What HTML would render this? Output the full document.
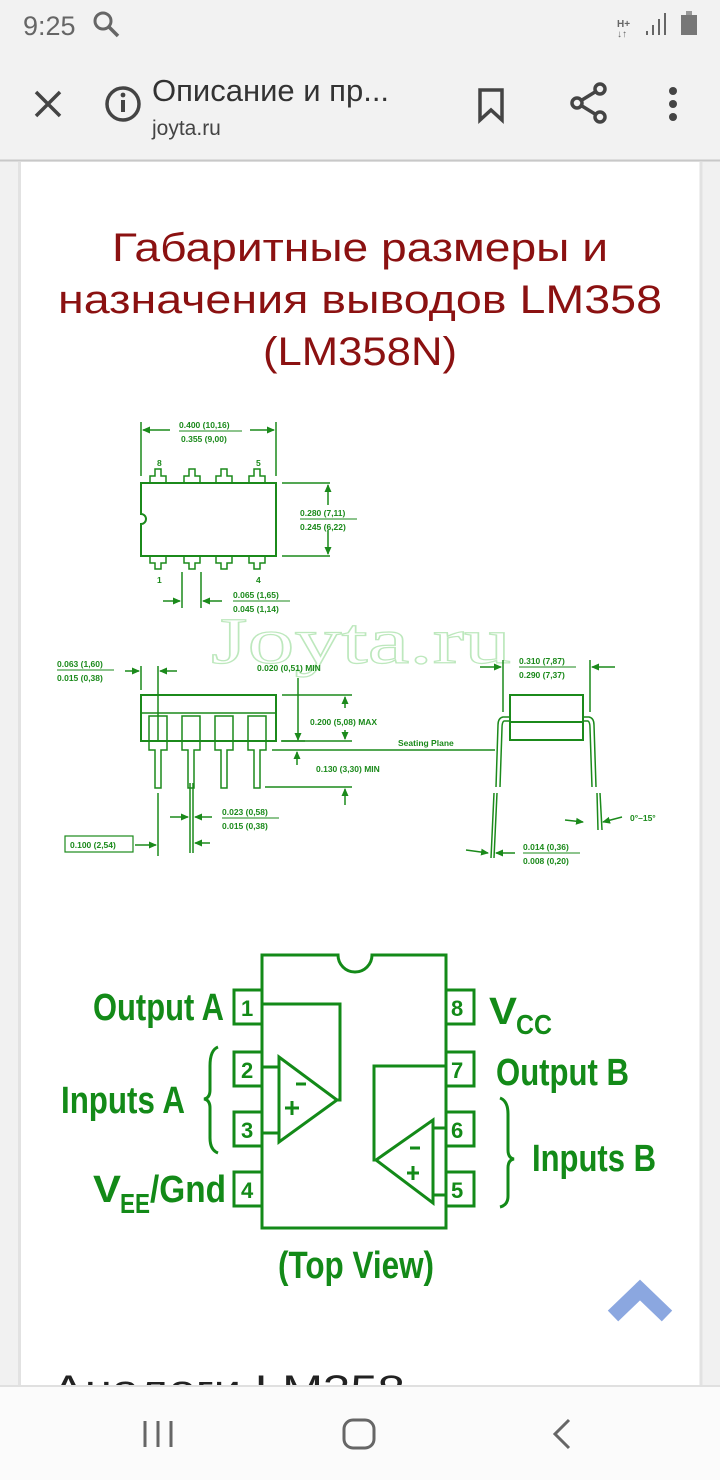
<!DOCTYPE html>
<html><head><meta charset="utf-8"><style>
body{margin:0;width:720px;height:1480px;overflow:hidden;background:#f1f1f1;font-family:"Liberation Sans",sans-serif;position:relative}
</style></head><body>
<svg width="720" height="1480" viewBox="0 0 720 1480" xmlns="http://www.w3.org/2000/svg" style="position:absolute;left:0;top:0">
<defs>
<marker id="a" markerWidth="8" markerHeight="8" refX="7" refY="4" orient="auto" markerUnits="userSpaceOnUse"><path d="M0,0.5 L8,4 L0,7.5z" fill="#1b8a1b"/></marker>
</defs>
<!-- top bars -->
<rect x="0" y="0" width="720" height="160" fill="#f2f2f2"/>
<line x1="0" y1="160.5" x2="720" y2="160.5" stroke="#c8c8c8" stroke-width="2"/>
<text x="23" y="35" font-size="27" fill="#666">9:25</text>
<circle cx="103" cy="21" r="8" fill="none" stroke="#666" stroke-width="3"/><line x1="109" y1="27" x2="118" y2="36" stroke="#666" stroke-width="3.5"/>
<text x="617" y="27" font-size="10" font-weight="bold" fill="#666">H+</text><text x="617" y="37" font-size="10" font-weight="bold" fill="#666">↓↑</text>
<rect x="646" y="31" width="2" height="4" fill="#666"/><rect x="652" y="25" width="2" height="10" fill="#666"/><rect x="658" y="19" width="2" height="16" fill="#666"/><rect x="664" y="13" width="2" height="22" fill="#666"/>
<rect x="681" y="15" width="16" height="20" fill="#777"/><rect x="686" y="11" width="6" height="4" fill="#999"/>
<path d="M36,92 L60,116 M60,92 L36,116" stroke="#444" stroke-width="3.5"/>
<circle cx="123" cy="104" r="16" fill="none" stroke="#444" stroke-width="3.5"/><rect x="121" y="100" width="4" height="12" fill="#444"/><circle cx="123" cy="95" r="2.4" fill="#444"/>
<text x="152" y="101" font-size="31" fill="#333">Описание и пр...</text>
<text x="152" y="135" font-size="21" fill="#444">joyta.ru</text>
<path d="M480,90 L480,120 L491,110 L502,120 L502,90z" fill="none" stroke="#444" stroke-width="3.5"/>
<circle cx="600" cy="89" r="5" fill="none" stroke="#444" stroke-width="3.5"/><circle cx="577" cy="103" r="5" fill="none" stroke="#444" stroke-width="3.5"/><circle cx="600" cy="117" r="5" fill="none" stroke="#444" stroke-width="3.5"/>
<path d="M582,100 L595,92 M582,106 L595,114" stroke="#444" stroke-width="3.5"/>
<circle cx="673" cy="91" r="4" fill="#444"/><circle cx="673" cy="104" r="4" fill="#444"/><circle cx="673" cy="117" r="4" fill="#444"/>
<!-- card -->
<rect x="20" y="162" width="680" height="1225" fill="#fff"/>
<line x1="19.5" y1="162" x2="19.5" y2="1387" stroke="#e2e2e2" stroke-width="3"/>
<line x1="701" y1="162" x2="701" y2="1387" stroke="#e2e2e2" stroke-width="3"/>
<g font-size="40" fill="#8b1111">
<text x="112" y="261" textLength="496" lengthAdjust="spacingAndGlyphs">Габаритные размеры и</text>
<text x="58" y="313" textLength="604" lengthAdjust="spacingAndGlyphs">назначения выводов LM358</text>
<text x="263" y="365" textLength="194" lengthAdjust="spacingAndGlyphs">(LM358N)</text>
</g>
<!-- watermark -->
<text x="211" y="663" font-family="Liberation Serif,serif" font-size="66" fill="none" stroke="#bde8bd" stroke-width="1.2" textLength="300" lengthAdjust="spacingAndGlyphs">Joyta.ru</text>
<!-- mechanical drawing -->
<g stroke="#1b8a1b" fill="none" stroke-width="1.5">
<path d="M141,483 H276 V556 H141 V524 A5,5 0 0 0 141,514 Z" stroke-width="2"/>
<g stroke-width="1.5">
<path d="M150,483 V476 H155 V469 H161 V476 H166 V483"/>
<path d="M184,483 V476 H189 V469 H195 V476 H200 V483"/>
<path d="M216,483 V476 H221 V469 H227 V476 H232 V483"/>
<path d="M249,483 V476 H254 V469 H260 V476 H265 V483"/>
<path d="M150,556 V563 H155 V569 H161 V563 H166 V556"/>
<path d="M184,556 V563 H189 V569 H195 V563 H200 V556"/>
<path d="M216,556 V563 H221 V569 H227 V563 H232 V556"/>
<path d="M249,556 V563 H254 V569 H260 V563 H265 V556"/>
</g>
<path d="M141,422 V476 M276,422 V476"/>
<path d="M170,430 H143" marker-end="url(#a)"/><path d="M250,430 H274" marker-end="url(#a)"/>
<path d="M282,483 H330 M282,556 H330"/>
<path d="M328,505 V485" marker-end="url(#a)"/><path d="M328,530 V554" marker-end="url(#a)"/>
<path d="M182,572 V608 M201,572 V608"/>
<path d="M163,601 H180" marker-end="url(#a)"/><path d="M222,601 H203" marker-end="url(#a)"/>
<rect x="141" y="695" width="135" height="46" stroke-width="2"/>
<line x1="141" y1="713" x2="276" y2="713"/>
<g stroke-width="1.5">
<path d="M149,716 H167 V750 H161 V788 H155 V750 H149 Z"/>
<path d="M182,716 H200 V750 H194 V788 H188 V750 H182 Z"/>
<path d="M215,716 H233 V750 H227 V788 H221 V750 H215 Z"/>
<path d="M248,716 H266 V750 H260 V788 H254 V750 H248 Z"/>
</g>
<path d="M141,666 V690 M158,666 V742"/>
<path d="M125,671 H139" marker-end="url(#a)"/><path d="M177,671 H160" marker-end="url(#a)"/>
<path d="M298,678 V740" marker-end="url(#a)"/><path d="M281,741 H305"/>
<path d="M282,695 H352 M282,741 H352"/>
<path d="M345,708 V697" marker-end="url(#a)"/><path d="M345,730 V739" marker-end="url(#a)"/>
<path d="M272,750 H495"/>
<path d="M297,765 V752" marker-end="url(#a)"/>
<path d="M265,787 H352"/><path d="M345,805 V789" marker-end="url(#a)"/>
<path d="M190,783 V853 M193,783 V853"/>
<path d="M170,817 H188" marker-end="url(#a)"/><path d="M212,817 H195" marker-end="url(#a)"/>
<rect x="65" y="836" width="68" height="16" stroke-width="1.2"/>
<path d="M135,845 H156" marker-end="url(#a)"/><path d="M158,793 V856"/>
<path d="M210,843 H195" marker-end="url(#a)"/>
<rect x="510" y="695" width="73" height="45" stroke-width="2"/>
<line x1="510" y1="722" x2="583" y2="722" stroke-width="2"/>
<path d="M510,717 H503 Q498,718 498,725 L496,787 M510,721 H504 Q502,722 502,728 L500,787"/>
<path d="M494,793 L491,858 M497,793 L494,858"/>
<path d="M583,717 H589 Q594,718 594,725 L596,787 M583,721 H588 Q590,722 590,728 L592,787"/>
<path d="M597,793 L598,830 M600,793 L602,830"/>
<path d="M503,660 V712 M590,660 V712"/>
<path d="M480,667 H501" marker-end="url(#a)"/><path d="M615,667 H592" marker-end="url(#a)"/>
<path d="M565,820 L583,822" marker-end="url(#a)"/><path d="M622,817 L603,822" marker-end="url(#a)"/>
<path d="M466,850 L488,853" marker-end="url(#a)"/><path d="M515,853 L496,853" marker-end="url(#a)"/>
</g>
<g font-size="8.5" font-weight="bold" fill="#1b8a1b">
<text x="179" y="428">0.400 (10,16)</text><text x="181" y="442">0.355 (9,00)</text><line x1="179" y1="431" x2="242" y2="431" stroke="#1b8a1b"/>
<text x="157" y="466">8</text><text x="256" y="466">5</text><text x="157" y="583">1</text><text x="256" y="583">4</text>
<text x="300" y="516">0.280 (7,11)</text><text x="300" y="530">0.245 (6,22)</text><line x1="300" y1="519" x2="357" y2="519" stroke="#1b8a1b"/>
<text x="233" y="598">0.065 (1,65)</text><text x="233" y="612">0.045 (1,14)</text><line x1="233" y1="601" x2="290" y2="601" stroke="#1b8a1b"/>
<text x="57" y="667">0.063 (1,60)</text><text x="57" y="681">0.015 (0,38)</text><line x1="57" y1="670" x2="114" y2="670" stroke="#1b8a1b"/>
<text x="257" y="671">0.020 (0,51) MIN</text>
<text x="310" y="725">0.200 (5,08) MAX</text>
<text x="398" y="746">Seating Plane</text>
<text x="316" y="772">0.130 (3,30) MIN</text>
<text x="222" y="815">0.023 (0,58)</text><text x="222" y="829">0.015 (0,38)</text><line x1="222" y1="818" x2="279" y2="818" stroke="#1b8a1b"/>
<text x="70" y="848">0.100 (2,54)</text>
<text x="519" y="664">0.310 (7,87)</text><text x="519" y="678">0.290 (7,37)</text><line x1="519" y1="667" x2="576" y2="667" stroke="#1b8a1b"/>
<text x="630" y="821">0°–15°</text>
<text x="523" y="850">0.014 (0,36)</text><text x="523" y="864">0.008 (0,20)</text><line x1="523" y1="853" x2="580" y2="853" stroke="#1b8a1b"/>
</g>
<!-- pinout -->
<g stroke="#138a18" stroke-width="3" fill="none">
<path d="M262,955 H338 A17,17 0 0 0 372,955 H446 V1228 H262 Z"/>
<rect x="234" y="990" width="28" height="34"/><rect x="234" y="1052" width="28" height="34"/>
<rect x="234" y="1112" width="28" height="34"/><rect x="234" y="1172" width="28" height="34"/>
<rect x="446" y="990" width="28" height="34"/><rect x="446" y="1052" width="28" height="34"/>
<rect x="446" y="1112" width="28" height="34"/><rect x="446" y="1172" width="28" height="34"/>
<path d="M279,1057 V1142 L337,1100 Z"/>
<path d="M262,1004 H340 V1100 H337"/>
<path d="M262,1067 H279 M262,1133 H279"/>
<path d="M433,1120 V1203 L376,1160 Z"/>
<path d="M446,1066 H374 V1160 H376"/>
<path d="M433,1128 H446 M433,1195 H446"/>
<path d="M296,1084 H306 M285,1108 H299 M292,1101 V1115"/>
<path d="M410,1148 H420 M407,1173 H419 M413,1166 V1180"/>
<path d="M218,1047 Q210,1050 210,1066 V1090 Q210,1098 204,1099 Q210,1100 210,1108 V1138 Q210,1150 218,1153"/>
<path d="M500,1098 Q508,1101 508,1114 V1150 Q508,1158 514,1159 Q508,1160 508,1168 V1196 Q508,1205 500,1207"/>
</g>
<g fill="#138a18" font-size="22" font-weight="bold">
<text x="241" y="1016">1</text><text x="241" y="1078">2</text><text x="241" y="1138">3</text><text x="241" y="1198">4</text>
<text x="451" y="1016">8</text><text x="451" y="1078">7</text><text x="451" y="1138">6</text><text x="451" y="1198">5</text>
</g>
<g fill="#138a18" font-size="38" font-weight="bold">
<text x="93" y="1020" textLength="131" lengthAdjust="spacingAndGlyphs">Output A</text>
<text x="61" y="1113" textLength="124" lengthAdjust="spacingAndGlyphs">Inputs A</text>
<text x="93" y="1202" textLength="28" lengthAdjust="spacingAndGlyphs">V</text>
<text x="120" y="1213" font-size="28" textLength="30" lengthAdjust="spacingAndGlyphs">EE</text>
<text x="150" y="1202" textLength="76" lengthAdjust="spacingAndGlyphs">/Gnd</text>
<text x="489" y="1024" textLength="28" lengthAdjust="spacingAndGlyphs">V</text>
<text x="516" y="1034" font-size="28" textLength="36" lengthAdjust="spacingAndGlyphs">CC</text>
<text x="496" y="1085" textLength="133" lengthAdjust="spacingAndGlyphs">Output B</text>
<text x="532" y="1171" textLength="124" lengthAdjust="spacingAndGlyphs">Inputs B</text>
<text x="278" y="1278" textLength="156" lengthAdjust="spacingAndGlyphs">(Top View)</text>
</g>
<path d="M613,1316 L640,1290 L667,1316" fill="none" stroke="#8ba7e0" stroke-width="15" stroke-linejoin="miter"/>
<text x="52" y="1403" font-size="40" fill="#222" textLength="353" lengthAdjust="spacingAndGlyphs">Аналоги LM358</text>
<rect x="0" y="1386" width="720" height="94" fill="#fbfbfb"/>
<line x1="0" y1="1386" x2="720" y2="1386" stroke="#e0e0e0" stroke-width="2"/>
<g stroke="#666" stroke-width="3" fill="none">
<path d="M145,1421 V1447 M158,1421 V1447 M171,1421 V1447"/>
<rect x="344" y="1420" width="30" height="28" rx="9"/>
<path d="M569,1420 L555,1434 L569,1448"/>
</g>
</svg>
</body></html>
